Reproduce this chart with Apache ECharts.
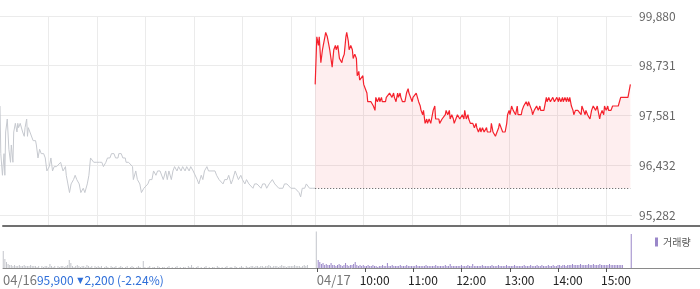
<!DOCTYPE html>
<html><head><meta charset="utf-8">
<script src="https://cdn.jsdelivr.net/npm/echarts@6/dist/echarts.min.js"></script>
<style>html,body{margin:0;padding:0;background:#fff}#c{width:700px;height:289px}</style>
</head><body><div id="c"></div>
<script>
// ---- data ----
const day1Label = '04/16';
const day2Label = '04/17';
const hourLabels = ['10:00', '11:00', '12:00', '13:00', '14:00', '15:00'];
const hourMinutes = [60, 120, 180, 240, 300, 360];   // minutes after 09:00
const sessionMinutes = 390;                           // 09:00 - 15:30
const prevClose = 95900;
const lastPriceText = '95,900';
const changeText = '2,200';
const changePctText = '(-2.24%)';
const volumeName = '거래량';
const yTicks = [95282, 96432, 97581, 98731, 99880];
const yTickLabels = ['95,282', '96,432', '97,581', '98,731', '99,880'];

// [minute after 09:00, price]
const day1 = [[0,97800],[1,96700],[3,96200],[5,96700],[6,96200],[7,97200],[9,97500],[11,96800],[13,96500],[14,96900],[16,96500],[17,97200],[19,97400],[21,97200],[22,97400],[23,97300],[25,97400],[26,97400],[28,97200],[30,97100],[31,97300],[33,97500],[34,97100],[35,97300],[37,97200],[39,97200],[41,97000],[44,97000],[45,96900],[47,96600],[49,96800],[51,96700],[54,96700],[56,96600],[58,96300],[61,96400],[63,96600],[65,96300],[67,96400],[70,96400],[72,96400],[75,96500],[77,96500],[78,96300],[81,96400],[82,96200],[84,96000],[86,95800],[88,96000],[91,96100],[93,96200],[95,96100],[98,96000],[100,95800],[103,95900],[105,95800],[108,96000],[110,96200],[112,96600],[114,96600],[116,96500],[119,96500],[121,96500],[123,96500],[126,96500],[128,96400],[131,96500],[133,96600],[136,96600],[138,96700],[141,96700],[143,96600],[146,96600],[147,96700],[150,96700],[152,96600],[155,96600],[156,96500],[159,96500],[161,96500],[164,96400],[165,96100],[168,96300],[170,96100],[173,96000],[175,95800],[178,95900],[180,95900],[183,96000],[185,96100],[188,96100],[190,96300],[193,96200],[195,96300],[198,96300],[200,96300],[202,96100],[205,96300],[207,96100],[209,96300],[212,96100],[214,96300],[216,96400],[219,96300],[221,96400],[224,96300],[226,96400],[229,96300],[231,96400],[234,96300],[236,96400],[239,96300],[241,96300],[244,96100],[246,96000],[249,96200],[251,96100],[253,96300],[256,96400],[258,96300],[261,96300],[263,96300],[266,96300],[268,96200],[271,96100],[273,96100],[276,96000],[278,96100],[281,96100],[283,96200],[286,96000],[288,96100],[291,96300],[293,96200],[295,96100],[298,96200],[300,96100],[303,96000],[305,96100],[308,96000],[310,96000],[313,95900],[315,96000],[318,96000],[320,96000],[323,95900],[325,96000],[328,96000],[330,95900],[333,96000],[335,96000],[337,96100],[340,96000],[342,96000],[345,95900],[347,95900],[350,95900],[352,96000],[355,96000],[357,96000],[360,95900],[362,95900],[365,95900],[367,95900],[370,95800],[372,95700],[374,95900],[377,95900],[379,96000],[383,95900],[387,95900],[390,95900]];

const day2 = [[0,98300],[2,99400],[4,99200],[5,99400],[7,98800],[9,99100],[10,99200],[12,99400],[13,99500],[15,99400],[17,99200],[18,99100],[20,99100],[21,98700],[23,99100],[25,99200],[26,99100],[28,99200],[30,98900],[31,98900],[33,98800],[34,98900],[36,99000],[38,99400],[39,99500],[41,99300],[42,99100],[44,99200],[46,99100],[47,98900],[49,99000],[51,98900],[52,98500],[54,98600],[55,98400],[57,98400],[59,98500],[60,98300],[62,98200],[64,98100],[65,97900],[67,97900],[69,97900],[70,97900],[72,97800],[74,97700],[75,98000],[77,97900],[79,98000],[80,97900],[82,98000],[83,97900],[85,97900],[87,97900],[88,98000],[90,98000],[92,98100],[93,98100],[95,98000],[97,98100],[98,98000],[100,97900],[102,98100],[103,98000],[105,98100],[106,98000],[108,97900],[110,97900],[111,97900],[113,98100],[115,98200],[116,98100],[118,98000],[120,97900],[121,98000],[123,98000],[125,98100],[126,98100],[128,97900],[130,97800],[131,97700],[133,97600],[134,97700],[136,97400],[138,97500],[139,97400],[141,97500],[143,97400],[144,97500],[146,97700],[148,97800],[149,97500],[151,97500],[153,97500],[154,97400],[156,97400],[157,97500],[159,97500],[161,97600],[162,97700],[164,97600],[166,97700],[167,97500],[169,97600],[171,97500],[172,97400],[174,97400],[176,97600],[177,97600],[179,97500],[181,97500],[182,97600],[184,97500],[185,97700],[187,97500],[189,97600],[190,97500],[192,97400],[194,97400],[195,97400],[197,97300],[199,97400],[200,97300],[202,97200],[204,97300],[205,97200],[207,97300],[209,97200],[210,97200],[212,97300],[213,97200],[215,97200],[217,97200],[218,97400],[220,97200],[222,97200],[223,97100],[225,97200],[227,97300],[228,97400],[230,97400],[232,97200],[233,97200],[235,97200],[237,97400],[238,97600],[240,97700],[241,97600],[243,97800],[245,97700],[246,97700],[248,97600],[250,97800],[251,97600],[253,97600],[255,97600],[256,97700],[258,97800],[260,97800],[261,97900],[263,97800],[264,97900],[266,97900],[268,97700],[269,97600],[271,97700],[273,97700],[274,97800],[276,97700],[278,97800],[279,97700],[281,97700],[283,97700],[284,97700],[286,98000],[287,97900],[289,98000],[291,97900],[292,97900],[294,98000],[296,97900],[297,97900],[299,98000],[301,97900],[302,98000],[304,97900],[306,98000],[307,97900],[309,98000],[311,97900],[312,98000],[314,97900],[315,98000],[317,97800],[319,97700],[320,97600],[322,97700],[324,97700],[325,97700],[327,97700],[329,97600],[330,97800],[332,97700],[334,97600],[335,97700],[337,97600],[339,97600],[340,97500],[342,97700],[344,97800],[345,97800],[347,97700],[349,97800],[350,97700],[352,97500],[353,97600],[355,97700],[357,97600],[358,97800],[360,97700],[362,97800],[363,97700],[365,97700],[366,97700],[368,97800],[370,97800],[371,97800],[373,97800],[375,97800],[376,97800],[378,98000],[387,98000],[390,98300]];

// volume per 2-minute bin (thousand shares), plus closing auction
const vol1 = [170,90,60,40,30, 30,20,30,20,20,30,20,20,30,20,20,20,30,20,20,
  20,10,20,0,20,10,20,20,10,40,20,10,20,0,20,10,20,20,10,20,
  30,80,50,20,10,20,30,20,10,20,20,10,30,20,10,20,0,20,10,20,
  10,20,0,10,20,10,0,20,10,10,20,0,10,20,10,0,10,20,0,10,
  20,10,0,10,20,10,0,70,10,0,10,20,0,10,10,0,20,10,0,10,
  10,0,10,20,0,10,0,10,20,0,10,0,10,10,0,20,10,30,10,0,
  10,20,0,10,0,10,20,0,10,0,10,10,0,20,10,0,10,0,10,20,
  0,10,10,0,20,10,0,10,20,10,0,20,10,10,20,20,10,20,20,10,
  20,20,10,20,20,30,20,10,20,20,20,10,20,30,20,20,10,20,20,20,
  20,30,20,20,20,10,20,30,20,30,0,0,0,0,0];
const vol1Close = 365;
const vol2 = [80,60,40,50,30,40,30,30,50,30,
  30,20,30,40,30,20,30,50,30,20,30,30,40,60,30,20,30,20,30,20,
  20,30,20,20,30,20,20,10,20,20,30,20,20,50,20,20,30,20,20,20,
  20,30,20,20,20,30,20,20,20,20,20,30,20,20,20,20,20,30,20,20,
  20,20,20,30,20,20,20,20,20,30,20,20,40,20,20,20,20,20,20,30,
  20,20,20,30,20,20,40,20,20,20,20,20,30,20,20,20,20,20,30,20,
  20,20,30,20,20,20,20,30,20,20,20,20,30,20,20,20,20,20,30,20,
  20,20,30,20,20,20,30,20,20,30,20,20,20,30,20,20,30,20,20,30,
  30,20,30,30,20,30,30,30,40,30,30,30,30,40,30,30,30,30,40,30,
  30,40,30,30,30,40,30,30,30,30,30,40,30,30,30,30,30,30,30,30,
  0,0,0,0,0];
const vol2Close = 340;

// ---- layout ----
const FONT = "'Noto Sans CJK KR', 'Noto Sans', sans-serif";
const mainW = 632, xMax = 782, volW = 700;
const volMax = xMax * volW / mainW;
const yMin = 95028, yMax = 99880;

const gridMinutes = hourMinutes.concat([sessionMinutes], hourMinutes.map(m => sessionMinutes + m));
const day2Ticks = [sessionMinutes].concat(hourMinutes.map(m => sessionMinutes + m));

const line1 = day1.map(d => [d[0], d[1]]);
const line2 = day2.map(d => [sessionMinutes + d[0], d[1]]);
const bars1 = vol1.map((v, i) => [2 * i + 1, v]).concat([[sessionMinutes, vol1Close]]);
const bars2 = vol2.map((v, i) => [sessionMinutes + 2 * i + 1, v]).concat([[2 * sessionMinutes, vol2Close]]);

const chart = echarts.init(document.getElementById('c'), null, {renderer: 'canvas'});
chart.setOption({
  animation: false,
  backgroundColor: '#fff',
  textStyle: {fontFamily: FONT},
  legend: {
    data: [volumeName], left: 650, top: 232, icon: 'rect', itemWidth: 3, itemHeight: 9,
    selectedMode: false, textStyle: {fontSize: 10, color: '#555', fontFamily: FONT}
  },
  grid: [
    {left: 0, top: 16, width: mainW, height: 210},
    {left: 0, top: 226, width: volW, height: 42}
  ],
  xAxis: [
    {type: 'value', gridIndex: 0, min: 0, max: xMax,
     axisLine: {show: false}, axisTick: {show: false, customValues: gridMinutes},
     axisLabel: {show: false}, splitLine: {show: true, lineStyle: {color: '#ebebeb', width: 1}}},
    {type: 'value', gridIndex: 1, min: 0, max: volMax, position: 'bottom',
     axisLine: {lineStyle: {color: '#8a8a8a', width: 1}},
     axisTick: {customValues: day2Ticks, length: 4, lineStyle: {color: '#555'}},
     axisLabel: {customValues: [0, sessionMinutes], align: 'left', margin: 6,
       formatter: v => v === 0
         ? '{d|' + day1Label + '}{b|' + lastPriceText + ' }{tri|▼}{b|' + changeText + ' ' + changePctText + '}'
         : '{d|' + day2Label + '}',
       rich: {
         d: {color: '#777', fontSize: 13, fontFamily: FONT},
         b: {color: '#2f6fd9', fontSize: 12, fontFamily: FONT},
         tri: {color: '#2f6fd9', fontSize: 8, fontFamily: 'DejaVu Sans', padding: [0, 1, 0, 1]}
       }},
     splitLine: {show: false}},
    {type: 'value', gridIndex: 1, min: 0, max: volMax, position: 'bottom',
     axisLine: {show: false}, axisTick: {show: false},
     axisLabel: {customValues: hourMinutes.map(m => sessionMinutes + m), align: 'center', margin: 6,
       formatter: v => '{t|' + hourLabels[hourMinutes.indexOf(v - sessionMinutes)] + '}',
       rich: {t: {color: '#222', fontSize: 12, fontFamily: FONT, padding: [0, 0, 0, 19]}}},
     splitLine: {show: false}},
    {type: 'value', gridIndex: 1, min: 0, max: volMax, position: 'top',
     axisLine: {lineStyle: {color: '#707070', width: 2}}, axisTick: {show: false},
     axisLabel: {show: false}, splitLine: {show: false}}
  ],
  yAxis: [
    {type: 'value', gridIndex: 0, position: 'right', min: yMin, max: yMax,
     axisLine: {show: false}, axisTick: {show: false, customValues: yTicks},
     axisLabel: {customValues: yTicks, margin: 7, color: '#666', fontSize: 12,
       formatter: v => yTickLabels[yTicks.indexOf(v)]},
     splitLine: {show: true, lineStyle: {color: '#ebebeb', width: 1}}},
    {type: 'value', gridIndex: 1, min: 0, max: 420, show: false, splitLine: {show: false}}
  ],
  series: [
    {type: 'line', name: day1Label, xAxisIndex: 0, yAxisIndex: 0, data: line1,
     showSymbol: false, lineStyle: {color: '#c6c9cf', width: 1}, z: 3},
    {type: 'line', name: day2Label, xAxisIndex: 0, yAxisIndex: 0, data: line2,
     showSymbol: false, lineStyle: {color: '#f5222d', width: 1.2},
     areaStyle: {color: 'rgba(245,34,45,0.11)', origin: prevClose}, z: 4,
     markLine: {silent: true, symbol: 'none', label: {show: false},
       lineStyle: {color: '#555', type: [1, 2], width: 1},
       data: [[{coord: [sessionMinutes, prevClose]}, {coord: [2 * sessionMinutes, prevClose]}]]}},
    {type: 'bar', name: day1Label + ' vol', xAxisIndex: 1, yAxisIndex: 1, data: bars1,
     barWidth: 1, itemStyle: {color: '#c3c5cb'}},
    {type: 'bar', name: volumeName, xAxisIndex: 1, yAxisIndex: 1, data: bars2,
     barWidth: 1, itemStyle: {color: '#9a87c9'}}
  ]
});
</script></body></html>
